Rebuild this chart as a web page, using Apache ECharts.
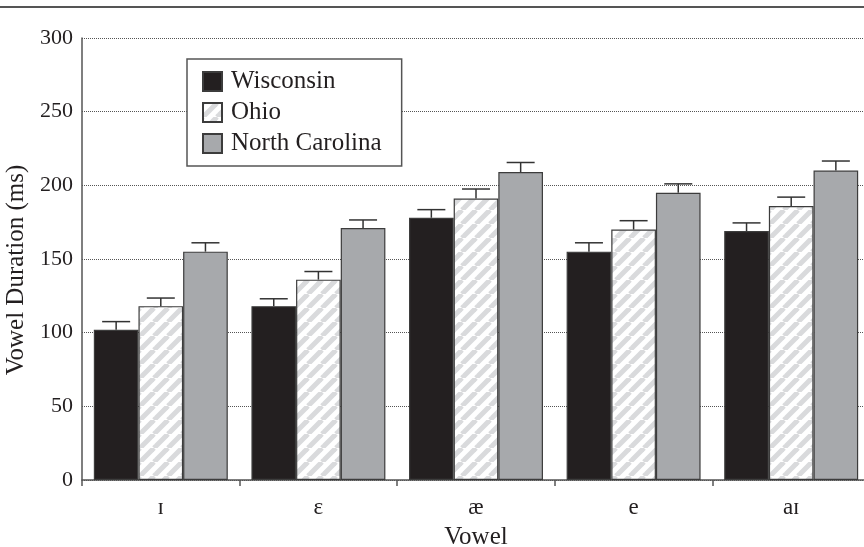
<!DOCTYPE html>
<html>
<head>
<meta charset="utf-8">
<script src="https://cdn.jsdelivr.net/npm/echarts@6/dist/echarts.min.js"></script>
<style>
  html, body { margin: 0; padding: 0; background: #fff; }
  #main { width: 864px; height: 547px; }
</style>
</head>
<body>
<div id="main"></div>
<script>
var vowels = ['ɪ', 'ɛ', 'æ', 'e', 'aɪ'];
var names = ['Wisconsin', 'Ohio', 'North Carolina'];
var wisconsin = [102, 118, 178, 155, 169];
var ohio = [118, 136, 191, 170, 186];
var northCarolina = [155, 171, 209, 195, 210];
var wisconsinErr = [5.5, 5, 5.5, 6, 5.5];
var ohioErr = [5.5, 5.5, 6.5, 6, 6];
var northCarolinaErr = [6, 5.5, 6.5, 6, 6.5];
var yTicks = [0, 50, 100, 150, 200, 250, 300];

var font = 'Liberation Serif';
var ink = '#231f20';
var edge = '#3c3c3c';

// light grey diagonal stripes for Ohio
var hatch = document.createElement('canvas');
hatch.width = 14;
hatch.height = 14;
var ctx = hatch.getContext('2d');
ctx.fillStyle = '#ffffff';
ctx.fillRect(0, 0, 14, 14);
ctx.strokeStyle = '#d9dadc';
ctx.lineWidth = 5;
for (var k = -1; k <= 1; k++) {
    ctx.beginPath();
    ctx.moveTo(k * 14, 14);
    ctx.lineTo(k * 14 + 14, 0);
    ctx.stroke();
}

var barCatGap = 0.15;

function errBars(slot) {
    return function (params, api) {
        var cat = api.value(0);
        var x = api.coord([cat, 0])[0];
        var band = api.size([1, 0])[0];
        var bw = band * (1 - barCatGap) / 3;
        var cx = x + (slot - 1) * bw;
        var yTop = api.coord([cat, api.value(1)])[1];
        var yErr = api.coord([cat, api.value(1) + api.value(2)])[1];
        var st = { stroke: '#333', lineWidth: 1.5 };
        return {
            type: 'group',
            children: [
                { type: 'line', shape: { x1: cx, y1: yTop, x2: cx, y2: yErr }, style: st },
                { type: 'line', shape: { x1: cx - 14, y1: yErr, x2: cx + 14, y2: yErr }, style: st }
            ]
        };
    };
}

function errData(vals, errs) {
    return vals.map(function (v, i) { return [i, v, errs[i]]; });
}

var myChart = echarts.init(document.getElementById('main'));

option = {
    backgroundColor: '#fff',
    animation: false,
    textStyle: { fontFamily: font, color: ink },
    // plot runs a little past the right edge, as in the original
    grid: { left: 82, width: 788, top: 38, height: 442, outerBoundsMode: 'none' },
    graphic: [
        { type: 'line', shape: { x1: 0, y1: 7, x2: 864, y2: 7 }, style: { stroke: '#555', lineWidth: 2 } }
    ],
    legend: {
        data: names,
        orient: 'vertical',
        left: 187,
        top: 59,
        padding: [10, 20, 10, 15],
        itemWidth: 19,
        itemHeight: 19,
        itemGap: 6,
        icon: 'rect',
        borderColor: '#555',
        borderWidth: 1.5,
        backgroundColor: '#fff',
        textStyle: { fontFamily: font, fontSize: 25, lineHeight: 23, color: ink, padding: [0, 0, 0, 4] }
    },
    xAxis: {
        type: 'category',
        data: vowels,
        name: 'Vowel',
        nameLocation: 'middle',
        nameGap: 45,
        nameTextStyle: { fontFamily: font, fontSize: 25, color: ink },
        axisLine: { lineStyle: { color: '#555', width: 1.5 } },
        axisTick: { show: true, length: 6, lineStyle: { color: '#555', width: 1.5 } },
        axisLabel: { fontFamily: font, fontSize: 23, color: ink, margin: 16 }
    },
    yAxis: {
        type: 'value',
        min: 0,
        max: 300,
        interval: 50,
        name: 'Vowel Duration (ms)',
        nameLocation: 'middle',
        nameGap: 42,
        nameTextStyle: { fontFamily: font, fontSize: 25, color: ink, padding: [0, 22, 0, 0] },
        axisLine: { show: true, lineStyle: { color: '#555', width: 1.5 } },
        axisTick: { show: false },
        axisLabel: {
            fontFamily: font, fontSize: 22, color: ink, margin: 9,
            formatter: function (v) { return yTicks.indexOf(v) >= 0 ? String(v) : ''; }
        },
        splitLine: { show: true, lineStyle: { color: '#555', type: 'dotted', width: 1 } }
    },
    series: [
        {
            name: names[0], type: 'bar', data: wisconsin,
            barGap: '0%', barCategoryGap: '15%',
            itemStyle: { color: ink, borderColor: edge, borderWidth: 1.2 }
        },
        {
            name: names[1], type: 'bar', data: ohio,
            itemStyle: { color: { image: hatch, repeat: 'repeat' }, borderColor: edge, borderWidth: 1.2 }
        },
        {
            name: names[2], type: 'bar', data: northCarolina,
            itemStyle: { color: '#a7a9ac', borderColor: edge, borderWidth: 1.2 }
        },
        { type: 'custom', renderItem: errBars(0), data: errData(wisconsin, wisconsinErr), encode: { x: 0, y: 1 }, z: 5 },
        { type: 'custom', renderItem: errBars(1), data: errData(ohio, ohioErr), encode: { x: 0, y: 1 }, z: 5 },
        { type: 'custom', renderItem: errBars(2), data: errData(northCarolina, northCarolinaErr), encode: { x: 0, y: 1 }, z: 5 }
    ]
};

myChart.setOption(option);
</script>
</body>
</html>
